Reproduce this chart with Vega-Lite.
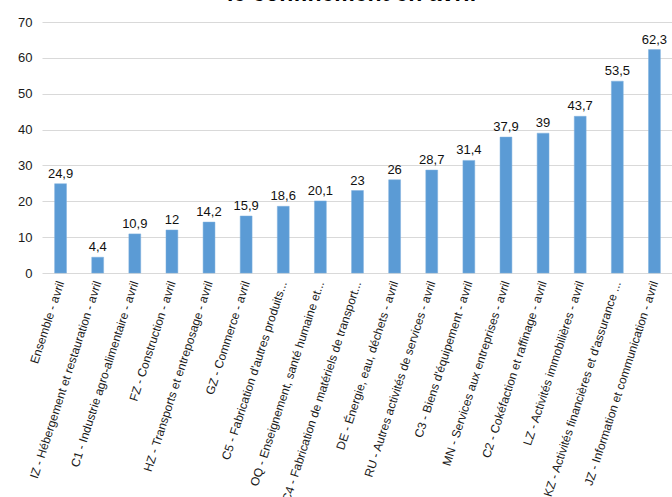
{
  "$schema": "https://vega.github.io/schema/vega-lite/v6.json",
  "autosize": {"type": "none"},
  "padding": {"left": 42, "top": 22, "right": 0, "bottom": 224},
  "width": 631,
  "height": 251,
  "background": "white",
  "title": {
    "text": "le confinement en avril",
    "frame": "group",
    "anchor": "middle",
    "baseline": "alphabetic",
    "offset": 4,
    "dx": -6,
    "dy": 12,
    "font": "Liberation Sans",
    "fontSize": 23,
    "fontWeight": "bold",
    "color": "#000000"
  },
  "data": {
    "values": [
      {"secteur": "Ensemble - avril", "valeur": 24.9, "label": "24,9"},
      {"secteur": "IZ - Hébergement et restauration - avril", "valeur": 4.4, "label": "4,4"},
      {"secteur": "C1 - Industrie agro-alimentaire - avril", "valeur": 10.9, "label": "10,9"},
      {"secteur": "FZ - Construction - avril", "valeur": 12, "label": "12"},
      {"secteur": "HZ - Transports et entreposage - avril", "valeur": 14.2, "label": "14,2"},
      {"secteur": "GZ - Commerce - avril", "valeur": 15.9, "label": "15,9"},
      {"secteur": "C5 - Fabrication d'autres produits...", "valeur": 18.6, "label": "18,6"},
      {"secteur": "OQ - Enseignement, santé humaine et...", "valeur": 20.1, "label": "20,1"},
      {"secteur": "C4 - Fabrication de matériels de transport...", "valeur": 23, "label": "23"},
      {"secteur": "DE - Énergie, eau, déchets - avril", "valeur": 26, "label": "26"},
      {"secteur": "RU - Autres activités de services - avril", "valeur": 28.7, "label": "28,7"},
      {"secteur": "C3 - Biens d'équipement - avril", "valeur": 31.4, "label": "31,4"},
      {"secteur": "MN - Services aux entreprises - avril", "valeur": 37.9, "label": "37,9"},
      {"secteur": "C2 - Cokéfaction et raffinage - avril", "valeur": 39, "label": "39"},
      {"secteur": "LZ - Activités immobilières - avril", "valeur": 43.7, "label": "43,7"},
      {"secteur": "KZ - Activités financières et d'assurance ...", "valeur": 53.5, "label": "53,5"},
      {"secteur": "JZ - Information et communication - avril", "valeur": 62.3, "label": "62,3"}
    ]
  },
  "encoding": {
    "x": {
      "field": "secteur",
      "type": "nominal",
      "sort": null,
      "scale": {"paddingInner": 0.68, "paddingOuter": 0.34},
      "axis": {
        "title": null,
        "labelAngle": -72,
        "labelAlign": "right",
        "labelBaseline": "middle",
        "labelFont": "Liberation Sans",
        "labelFontSize": 12,
        "labelColor": "#1a1a1a",
        "labelLimit": 400,
        "labelPadding": 8,
        "ticks": false,
        "domain": false,
        "grid": false
      }
    },
    "y": {
      "field": "valeur",
      "type": "quantitative",
      "scale": {"domain": [0, 70], "nice": false},
      "axis": {
        "title": null,
        "values": [0, 10, 20, 30, 40, 50, 60, 70],
        "labelFont": "Liberation Sans",
        "labelFontSize": 13,
        "labelColor": "#1a1a1a",
        "labelPadding": 10,
        "ticks": false,
        "domain": false,
        "grid": true,
        "gridColor": "#d9d9d9",
        "gridWidth": 1
      }
    }
  },
  "layer": [
    {"mark": {"type": "bar", "color": "#5b9bd5", "stroke": "#7fb0de", "strokeWidth": 0.5}},
    {
      "mark": {
        "type": "text",
        "baseline": "alphabetic",
        "dy": -6,
        "font": "Liberation Sans",
        "fontSize": 13,
        "color": "#111111"
      },
      "encoding": {"text": {"field": "label", "type": "nominal"}}
    }
  ],
  "config": {"view": {"stroke": null}}
}
